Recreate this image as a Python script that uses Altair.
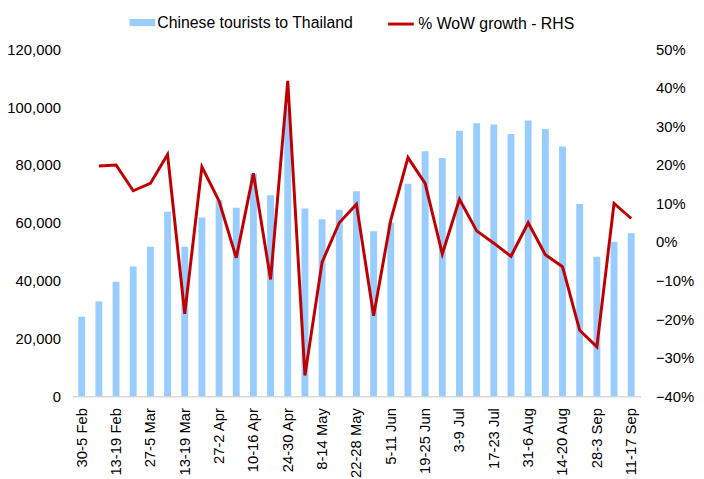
import altair as alt
import pandas as pd

weeks = [
    "30-5 Feb", "6-12 Feb", "13-19 Feb", "20-26 Feb", "27-5 Mar", "6-12 Mar",
    "13-19 Mar", "20-26 Mar", "27-2 Apr", "3-9 Apr", "10-16 Apr", "17-23 Apr",
    "24-30 Apr", "1-7 May", "8-14 May", "15-21 May", "22-28 May", "29-4 Jun",
    "5-11 Jun", "12-18 Jun", "19-25 Jun", "26-2 Jul", "3-9 Jul", "10-16 Jul",
    "17-23 Jul", "24-30 Jul", "31-6 Aug", "7-13 Aug", "14-20 Aug", "21-27 Aug",
    "28-3 Sep", "4-10 Sep", "11-17 Sep",
]

tourists = [
    27500, 32800, 39600, 44900, 51700, 63800,
    51700, 61800, 67800, 65200, 77000, 69500,
    99500, 64900, 61200, 64500, 70900, 57100,
    60100, 73500, 84700, 82400, 91800, 94400,
    94000, 90700, 95400, 92400, 86400, 66500,
    48200, 53400, 56400,
]

wow_growth = [
    None, 0.197, 0.200, 0.133, 0.152, 0.227,
    -0.186, 0.195, 0.106, -0.041, 0.178, -0.097,
    0.418, -0.346, -0.052, 0.050, 0.098, -0.191,
    0.057, 0.219, 0.152, -0.031, 0.111, 0.029,
    -0.003, -0.037, 0.050, -0.033, -0.064, -0.229,
    -0.272, 0.100, 0.061,
]

tick_labels = weeks[::2]

bar_name = "Chinese tourists to Thailand"
line_name = "% WoW growth - RHS"

df = pd.DataFrame({"week": weeks, "tourists": tourists, "wow": wow_growth})
df["bar_series"] = bar_name
df["line_series"] = line_name
lab_df = pd.DataFrame({"week": tick_labels})

FONT = "Liberation Sans"

x_axis = alt.Axis(
    labels=False,
    ticks=False,
    domain=True,
    domainColor="#d9d9d9",
    domainWidth=1.5,
)

x_scale = alt.Scale(paddingInner=0.6, paddingOuter=0.35)

bars = alt.Chart(df).mark_bar(color="#99CCFF").encode(
    x=alt.X("week:N", sort=weeks, title=None, scale=x_scale, axis=x_axis),
    y=alt.Y(
        "tourists:Q",
        title=None,
        scale=alt.Scale(domain=[0, 120000], nice=False),
        axis=alt.Axis(
            values=[0, 20000, 40000, 60000, 80000, 100000, 120000],
            format=",.0f",
            orient="left",
            domain=False,
            ticks=False,
            labelPadding=12,
            labelFontSize=15,
            labelColor="#000000",
            labelFont=FONT,
        ),
    ),
    color=alt.Color(
        "bar_series:N",
        title=None,
        scale=alt.Scale(domain=[bar_name], range=["#99CCFF"]),
        legend=alt.Legend(
            orient="none",
            legendX=58,
            legendY=-40,
            symbolType="M-1,-0.28L1,-0.28L1,0.28L-1,0.28Z",
            symbolSize=676,
            symbolStrokeWidth=0,
            labelFontSize=16,
            labelFont=FONT,
            labelColor="#000000",
            labelOffset=2,
            labelLimit=300,
            padding=0,
        ),
    ),
)

line = alt.Chart(df).mark_line(strokeWidth=3).encode(
    x=alt.X("week:N", sort=weeks, title=None, scale=x_scale, axis=x_axis),
    y=alt.Y(
        "wow:Q",
        title=None,
        scale=alt.Scale(domain=[-0.4, 0.5], nice=False),
        axis=alt.Axis(
            values=[-0.4, -0.3, -0.2, -0.1, 0, 0.1, 0.2, 0.3, 0.4, 0.5],
            format=".0%",
            orient="right",
            domain=False,
            ticks=False,
            labelPadding=15,
            labelFontSize=15,
            labelColor="#000000",
            labelFont=FONT,
        ),
    ),
    stroke=alt.Stroke(
        "line_series:N",
        title=None,
        scale=alt.Scale(domain=[line_name], range=["#C00000"]),
        legend=alt.Legend(
            orient="none",
            legendX=318,
            legendY=-40,
            symbolType="stroke",
            symbolSize=676,
            symbolStrokeWidth=3,
            labelFontSize=16,
            labelFont=FONT,
            labelColor="#000000",
            labelOffset=3,
            labelLimit=300,
            padding=0,
        ),
    ),
)

labels = alt.Chart(lab_df).mark_text(
    angle=270,
    align="right",
    baseline="middle",
    fontSize=15,
    font=FONT,
    color="#000000",
).encode(
    x=alt.X("week:N", sort=weeks, title=None, scale=x_scale, axis=x_axis),
    y=alt.value(363),
    text="week:N",
)

chart = (
    alt.layer(bars, line, labels)
    .resolve_scale(y="independent")
    .properties(
        width=575,
        height=351,
        autosize="none",
        padding={"left": 65, "top": 39, "right": 56, "bottom": 81},
    )
    .configure_view(stroke=None)
    .configure_axis(grid=False)
)

chart.save("out.html", embed_options={"renderer": "svg", "actions": False})
